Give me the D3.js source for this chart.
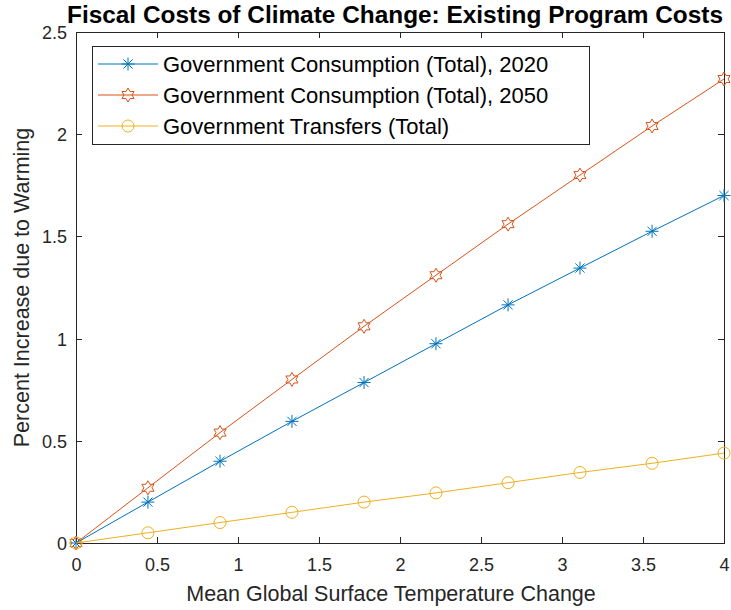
<!DOCTYPE html>
<html lang="en">
  <head>
    <meta charset="UTF-8" />
    <title>Fiscal Costs of Climate Change</title>
    <style>
      body {
        margin: 0;
        background: #fff;
        font-family: "Liberation Sans", Arial, Helvetica, sans-serif;
      }
      svg {
        display: block;
      }
    </style>
  </head>
  <body>
    <script src="https://cdn.jsdelivr.net/npm/d3@7"></script>
    <script>
      // data
      var temps = [0, 0.444, 0.889, 1.333, 1.778, 2.222, 2.667, 3.111, 3.556, 4];
      var cons2020 = [0, 0.2, 0.4, 0.595, 0.785, 0.975, 1.165, 1.345, 1.525, 1.7];
      var cons2050 = [0, 0.27, 0.54, 0.8, 1.06, 1.31, 1.56, 1.8, 2.04, 2.27];
      var transfers = [0, 0.05, 0.1, 0.15, 0.2, 0.245, 0.295, 0.345, 0.39, 0.44];
      var seriesNames = [
        "Government Consumption (Total), 2020",
        "Government Consumption (Total), 2050",
        "Government Transfers (Total)"
      ];
      var xTicks = [0, 0.5, 1, 1.5, 2, 2.5, 3, 3.5, 4];
      var yTicks = [0, 0.5, 1, 1.5, 2, 2.5];

      var W = 731, H = 610;
      var plotL = 76, plotR = 724, plotT = 32, plotB = 543;
      var axisColor = "#262626";
      var font = "Liberation Sans, Arial, sans-serif";

      var svg = d3.select("body").append("svg").attr("width", W).attr("height", H);

      var x = d3.scaleLinear().domain([0, 4]).range([plotL, plotR]);
      var y = d3.scaleLinear().domain([0, 2.5]).range([plotB, plotT]);

      // axes box
      svg.append("rect")
        .attr("x", plotL).attr("y", plotT)
        .attr("width", plotR - plotL).attr("height", plotB - plotT)
        .attr("fill", "#fff").attr("stroke", axisColor).attr("stroke-width", 1)
        .attr("shape-rendering", "crispEdges");

      var tl = 6;
      function styleTicks(g) {
        g.select(".domain").remove();
        g.selectAll("line").attr("stroke", axisColor).attr("shape-rendering", "crispEdges");
      }
      // x ticks, bottom and top, pointing inward
      svg.append("g").attr("transform", "translate(0," + plotB + ")")
        .call(d3.axisBottom(x).tickValues(xTicks).tickSizeInner(-tl).tickSizeOuter(0).tickFormat(d3.format("")))
        .call(styleTicks)
        .call(function (g) {
          g.selectAll("text").attr("y", 28).attr("dy", 0).attr("fill", axisColor)
            .style("font-size", "18px").style("font-family", font);
        });
      svg.append("g").attr("transform", "translate(0," + plotT + ")")
        .call(d3.axisTop(x).tickValues(xTicks).tickSizeInner(-tl).tickSizeOuter(0).tickFormat(""))
        .call(styleTicks);
      // y ticks, left and right, pointing inward
      svg.append("g").attr("transform", "translate(" + plotL + ",0)")
        .call(d3.axisLeft(y).tickValues(yTicks).tickSizeInner(-tl).tickSizeOuter(0).tickFormat(d3.format("")))
        .call(styleTicks)
        .call(function (g) {
          g.selectAll("text").attr("x", -9).attr("dy", "0.36em").attr("fill", axisColor)
            .style("font-size", "18px").style("font-family", font);
        });
      svg.append("g").attr("transform", "translate(" + plotR + ",0)")
        .call(d3.axisRight(y).tickValues(yTicks).tickSizeInner(-tl).tickSizeOuter(0).tickFormat(""))
        .call(styleTicks);

      // marker shapes
      function asterisk(s) {
        var r = s / 2, d = r * 0.7071;
        return "M" + -r + ",0L" + r + ",0M0," + -r + "L0," + r +
          "M" + -d + "," + -d + "L" + d + "," + d + "M" + -d + "," + d + "L" + d + "," + -d;
      }
      function hexagram(s) {
        var R = s / 2, r = R / Math.sqrt(3), pts = [];
        for (var i = 0; i < 12; i++) {
          var a = -Math.PI / 2 + i * Math.PI / 6;
          var rr = i % 2 === 0 ? R : r;
          pts.push([rr * Math.cos(a), rr * Math.sin(a)]);
        }
        return "M" + pts.join("L") + "Z";
      }
      function circle(s) {
        var r = s / 2;
        return "M" + -r + ",0A" + r + "," + r + " 0 1,1 " + r + ",0A" + r + "," + r + " 0 1,1 " + -r + ",0Z";
      }

      var series = [
        { name: seriesNames[0], values: cons2020, color: "#0072BD", marker: asterisk, size: 13 },
        { name: seriesNames[1], values: cons2050, color: "#D95319", marker: hexagram, size: 14 },
        { name: seriesNames[2], values: transfers, color: "#EDB120", marker: circle, size: 12 }
      ];

      var line = d3.line().x(function (d) { return x(d[0]); }).y(function (d) { return y(d[1]); });

      series.forEach(function (s) {
        var pts = temps.map(function (t, i) { return [t, s.values[i]]; });
        var g = svg.append("g");
        g.append("path").datum(pts).attr("d", line)
          .attr("fill", "none").attr("stroke", s.color).attr("stroke-width", 1);
        g.selectAll("path.m").data(pts).enter().append("path").attr("class", "m")
          .attr("transform", function (d) { return "translate(" + x(d[0]) + "," + y(d[1]) + ")"; })
          .attr("d", s.marker(s.size))
          .attr("fill", "none").attr("stroke", s.color).attr("stroke-width", 1);
      });

      // legend
      var lg = svg.append("g");
      lg.append("rect").attr("x", 92).attr("y", 46).attr("width", 497).attr("height", 98)
        .attr("fill", "#fff").attr("stroke", axisColor).attr("stroke-width", 1)
        .attr("shape-rendering", "crispEdges");
      series.forEach(function (s, i) {
        var yy = 64 + i * 31;
        lg.append("line").attr("x1", 98).attr("x2", 158).attr("y1", yy).attr("y2", yy)
          .attr("stroke", s.color).attr("stroke-width", 1);
        lg.append("path").attr("transform", "translate(128," + yy + ")")
          .attr("d", s.marker(s.size)).attr("fill", "none").attr("stroke", s.color);
        lg.append("text").attr("x", 163).attr("y", yy).attr("dy", "0.36em")
          .attr("fill", "#000").style("font-size", "22px").style("font-family", font).text(s.name);
      });

      // title and axis labels
      svg.append("text").attr("x", 67).attr("y", 23)
        .attr("textLength", 656).attr("lengthAdjust", "spacingAndGlyphs")
        .style("font-size", "23px").style("font-weight", "bold").style("font-family", font)
        .attr("fill", "#000").text("Fiscal Costs of Climate Change: Existing Program Costs");
      svg.append("text").attr("x", 391).attr("y", 601)
        .attr("text-anchor", "middle").style("font-size", "21.5px").style("font-family", font)
        .attr("fill", axisColor)
        .text("Mean Global Surface Temperature Change");
      svg.append("text").attr("transform", "translate(29," + (plotT + plotB) / 2 + ") rotate(-90)")
        .attr("text-anchor", "middle").style("font-size", "21.5px").style("font-family", font)
        .attr("fill", axisColor)
        .text("Percent Increase due to Warming");
    </script>
  </body>
</html>
